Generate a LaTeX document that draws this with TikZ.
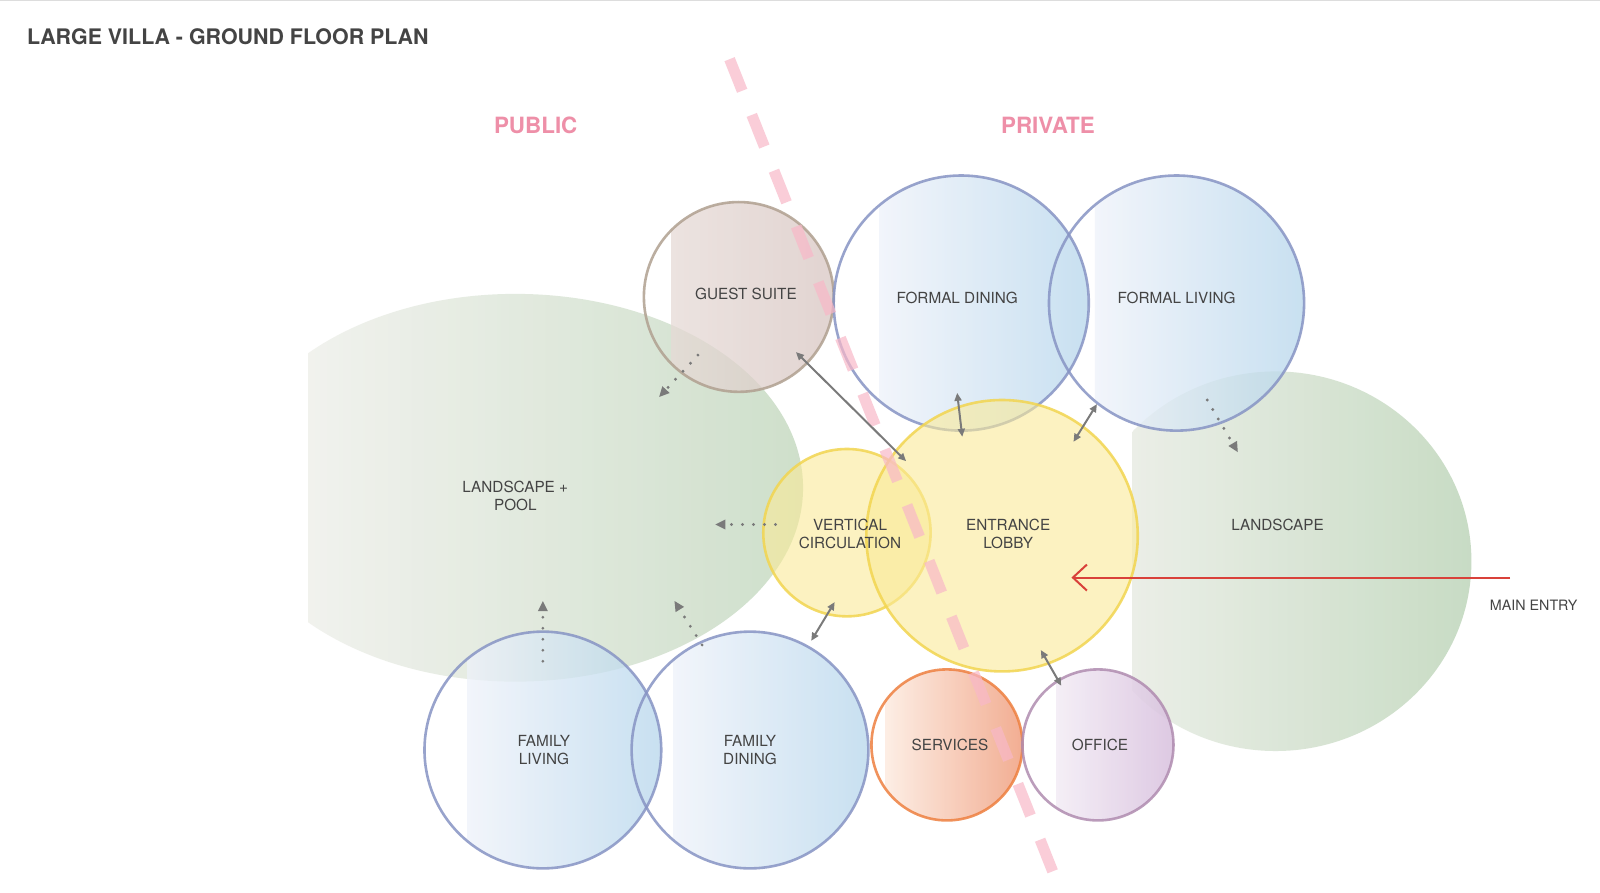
\documentclass[tikz,border=0pt]{standalone}
\usepackage{fontspec}
\setmainfont{TeX Gyre Heros}
\usetikzlibrary{arrows.meta}
\definecolor{txt}{HTML}{444444}
\definecolor{pinkT}{HTML}{EE8FA8}
\definecolor{arr}{HTML}{7A7A7A}
\definecolor{gL}{HTML}{EFF0EB}\definecolor{gR}{HTML}{C6DAC2}
\definecolor{g2L}{HTML}{E9EDE5}\definecolor{g2R}{HTML}{C2D8BE}
\definecolor{brL}{HTML}{E6DAD6}\definecolor{brR}{HTML}{D8C6C2}\definecolor{brB}{HTML}{B0A090}
\definecolor{blL}{HTML}{EEF2FA}\definecolor{blR}{HTML}{B6D6EC}\definecolor{blB}{HTML}{8794C4}
\definecolor{orL}{HTML}{FDEBE0}\definecolor{orR}{HTML}{F0A080}\definecolor{orB}{HTML}{EE8040}
\definecolor{puL}{HTML}{F3ECF5}\definecolor{puR}{HTML}{D8C0DE}\definecolor{puB}{HTML}{B08CB0}
\definecolor{yF}{HTML}{FAEA98}\definecolor{yB}{HTML}{F2D550}
\definecolor{divC}{HTML}{F8B8C8}\definecolor{redA}{HTML}{D9413A}\definecolor{lineG}{HTML}{DDDDDD}
\tikzset{
 lbl/.style={font=\fontsize{15.3}{18.4}\selectfont, text=txt, align=center},
 dbl/.style={arr, line width=2pt, {Triangle[length=8pt,width=7pt]}-{Triangle[length=8pt,width=7pt]}},
 dots/.style={arr, line width=3.2pt, line cap=round, dash pattern=on 0pt off 11pt, -{Triangle[length=10pt,width=10pt,line width=0pt]}},
}
\newcommand{\bub}[8]{% x y r startx leftcol rightcol border opacity
 \begin{scope}
 \clip (#1,#2) circle (#3);
 \clip (#4,#2-#3) rectangle (#1+#3,#2+#3);
 \shade[left color=#5, right color=#6, opacity=#8] (#4,#2-#3) rectangle (#1+#3,#2+#3);
 \end{scope}
 \draw[#7, line width=2.6pt, opacity=.85] (#1,#2) circle (#3);}
\begin{document}
\begin{tikzpicture}[x=1.0204pt,y=-1.0204pt]
\useasboundingbox (0,0) rectangle (1568,875.1);
\fill[white] (0,0) rectangle (1568,875.1);
% landscapes
\begin{scope}
 \clip (505,478) ellipse [x radius=282, y radius=190];
 \shade[left color=gL, right color=gR, opacity=.85] (302,280) rectangle (790,670);
\end{scope}
\begin{scope}
 \clip (1250,550) ellipse [x radius=192, y radius=186];
 \shade[left color=g2L, right color=g2R, opacity=.9] (1110,360) rectangle (1445,740);
\end{scope}
% bubbles
\bub{724}{291}{93}{658}{brL}{brR}{brB}{.75}
\bub{942}{297}{125}{862}{blL}{blR}{blB}{.75}
\bub{1153}{297}{125}{1073}{blL}{blR}{blB}{.75}
\bub{532}{735}{116}{458}{blL}{blR}{blB}{.75}
\bub{735}{735}{116}{660}{blL}{blR}{blB}{.75}
\bub{928}{730}{74}{868}{orL}{orR}{orB}{.85}
\bub{1076}{730}{74}{1035}{puL}{puR}{puB}{.85}
\fill[yF, opacity=.6] (830,522) circle (82);
\draw[yB, line width=2.6pt, opacity=.85] (830,522) circle (82);
\fill[yF, opacity=.6] (982,525) circle (133);
\draw[yB, line width=2.6pt, opacity=.85] (982,525) circle (133);
% divider
\draw[divC, line width=11pt, dash pattern=on 34pt off 26pt, opacity=.7] (715,58) -- (1040,875);
% labels
\node[anchor=west, font=\bfseries\fontsize{21.4}{24}\selectfont, text=txt] (title) at (23,36) {LARGE VILLA - GROUND FLOOR PLAN};
\node[font=\bfseries\fontsize{22.4}{24}\selectfont, text=pinkT] (pub) at (525,123) {PUBLIC};
\node[font=\bfseries\fontsize{22.4}{24}\selectfont, text=pinkT] (pri) at (1027,123) {PRIVATE};
\node[lbl] (gs) at (731,288) {GUEST SUITE};
\node[lbl] (fd) at (938,292) {FORMAL DINING};
\node[lbl] (fl) at (1153,292) {FORMAL LIVING};
\node[lbl] (lp) at (505,486) {LANDSCAPE +\\POOL};
\node[lbl] (vc) at (833,523) {VERTICAL\\CIRCULATION};
\node[lbl] (el) at (988,523) {ENTRANCE\\LOBBY};
\node[lbl] (ls) at (1252,514) {LANDSCAPE};
\node[lbl] (fliv) at (533,735) {FAMILY\\LIVING};
\node[lbl] (fdin) at (735,735) {FAMILY\\DINING};
\node[lbl] (sv) at (931,730) {SERVICES};
\node[lbl] (of) at (1078,730) {OFFICE};
\node[lbl, font=\fontsize{14.3}{16}\selectfont] (me) at (1503,593) {MAIN ENTRY};
% connector points
\coordinate (a1) at (780,345); \coordinate (a2) at (888,452);
\coordinate (b1) at (938,385); \coordinate (b2) at (943,428);
\coordinate (c1) at (1075,396); \coordinate (c2) at (1052,433);
\coordinate (d1) at (818,590); \coordinate (d2) at (795,628);
\coordinate (e1) at (1020,637); \coordinate (e2) at (1040,672);
\draw[dbl] (a1) -- (a2);
\draw[dbl] (b1) -- (b2);
\draw[dbl] (c1) -- (c2);
\draw[dbl] (d1) -- (d2);
\draw[dbl] (e1) -- (e2);
\coordinate (m1) at (1480,566); \coordinate (m2) at (1050,566);
\draw[redA, line width=2pt, -{Straight Barb[length=14pt,width=26pt,line width=2pt]}] (m1) -- (m2);
\coordinate (p1) at (684,348); \coordinate (p2) at (646,389);
\coordinate (q1) at (760,514); \coordinate (q2) at (701,514);
\coordinate (r1) at (532,648); \coordinate (r2) at (532,589);
\coordinate (s1) at (688,632); \coordinate (s2) at (661,589);
\coordinate (t1) at (1183,392); \coordinate (t2) at (1213,443);
\draw[dots] (p1) -- (p2);
\draw[dots] (q1) -- (q2);
\draw[dots] (r1) -- (r2);
\draw[dots] (s1) -- (s2);
\draw[dots] (t1) -- (t2);
\draw[lineG] (0,0.5) -- (1568,0.5);
\end{tikzpicture}
\end{document}
